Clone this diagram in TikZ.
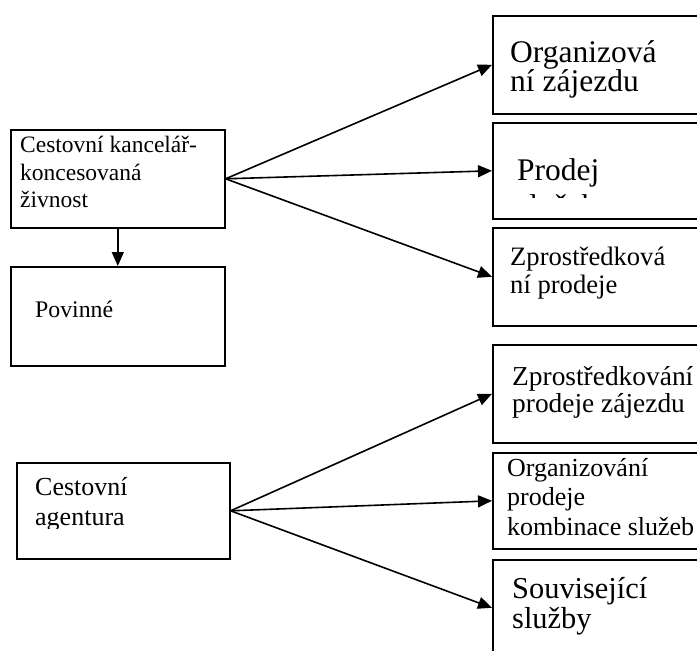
\documentclass[tikz,border=0pt]{standalone}
\usepackage{fontspec}
\setmainfont{Liberation Serif}
\usetikzlibrary{arrows.meta}
\tikzset{
  box/.style={draw, line width=1.6bp, inner sep=0pt, anchor=north west},
  lbl/.style={anchor=base west, inner sep=0pt},
  conn/.style={line width=1.6bp, -{Triangle[length=14bp,width=12bp]}},
}
\newcommand\fsz[1]{\fontsize{#1bp}{#1bp}\selectfont}

\begin{document}
\begin{tikzpicture}[x=1bp,y=-1bp]
\clip (0,0) rectangle (697,651);
\fill[white] (0,0) rectangle (697,651);

% left column
\node[box, minimum width=214bp, minimum height=98bp] (ck) at (10,129) {};
\node[box, minimum width=214bp, minimum height=99bp] (pov) at (10,266) {};
\node[box, minimum width=213bp, minimum height=96bp] (ca) at (16,462) {};

% right column (boxes run past the right edge)
\node[box, minimum width=220bp, minimum height=98bp] (r1) at (492,15) {};
\node[box, minimum width=220bp, minimum height=96bp] (r2) at (492,122) {};
\node[box, minimum width=220bp, minimum height=98bp] (r3) at (492,227) {};
\node[box, minimum width=220bp, minimum height=98bp] (r4) at (492,344) {};
\node[box, minimum width=220bp, minimum height=96bp] (r5) at (492,452) {};
\node[box, minimum width=220bp, minimum height=96bp] (r6) at (492,559) {};

% labels
\node[lbl, font=\fsz{23.5}] (ck1) at (20,152) {Cestovní kancelář-};
\node[lbl, font=\fsz{23.5}] (ck2) at (20,180) {koncesovaná};
\node[lbl, font=\fsz{23.5}] (ck3) at (20,207) {živnost};

\node[lbl, font=\fsz{23.8}] (pov1) at (35,317) {Povinné};

\begin{scope}
  \clip (16,462) rectangle (229,528);
  \node[lbl, font=\fsz{26}] (ca1) at (35,495) {Cestovní};
  \node[lbl, font=\fsz{26}] (ca2) at (35,525) {agentura};
\end{scope}

\node[lbl, font=\fsz{31.5}] (r1a) at (510,63) {Organizová};
\node[lbl, font=\fsz{31.5}] (r1b) at (510,92) {ní zájezdu};

\begin{scope}
  \clip (492,122) rectangle (712,197);
  \node[lbl, font=\fsz{31.5}] (r2a) at (517,180) {Prodej};
  \node[lbl, font=\fsz{31.5}] (r2b) at (517,216) {služeb};
\end{scope}

\node[lbl, font=\fsz{26.6}] (r3a) at (510,265) {Zprostředková};
\node[lbl, font=\fsz{26.6}] (r3b) at (510,293) {ní prodeje};

\node[lbl, font=\fsz{27.4}] (r4a) at (512,385) {Zprostředkování};
\node[lbl, font=\fsz{27.4}] (r4b) at (512,412) {prodeje zájezdu};

\node[lbl, font=\fsz{26}] (r5a) at (507,476) {Organizování};
\node[lbl, font=\fsz{26}] (r5b) at (507,505) {prodeje};
\node[lbl, font=\fsz{26}] (r5c) at (507,535) {kombinace služeb};

\begin{scope}
  \clip (492,559) rectangle (712,636);
  \node[lbl, font=\fsz{30.4}] (r6a) at (512,598) {Související};
  \node[lbl, font=\fsz{30.4}] (r6b) at (512,628) {služby};
\end{scope}

% connectors
\draw[conn] (ck.south) -- (pov.north);
\draw[conn] (ck.east) -- (r1.west);
\draw[conn] (ck.east) -- (r2.west);
\draw[conn] (ck.east) -- (r3.west);
\draw[conn] (ca.east) -- (r4.west);
\draw[conn] (ca.east) -- (r5.west);
\draw[conn] (ca.east) -- (r6.west);
\end{tikzpicture}
\end{document}
